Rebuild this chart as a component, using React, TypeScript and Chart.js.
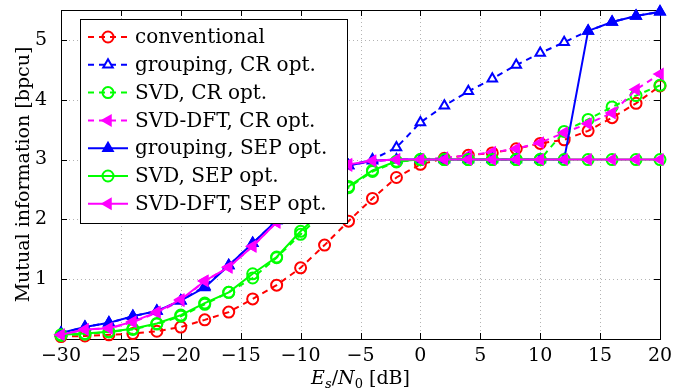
import React, { useEffect, useRef } from "react";
import { Chart, registerables } from "chart.js";
import { drawPoint } from "chart.js/helpers";

Chart.register(...registerables);

const snr = [-30, -28, -26, -24, -22, -20, -18, -16, -14, -12, -10, -8, -6, -4, -2, 0, 2, 4, 6, 8, 10, 12, 14, 16, 18, 20];

const conventional = [0.04, 0.05, 0.07, 0.09, 0.13, 0.2, 0.32, 0.45, 0.67, 0.9, 1.19, 1.57, 1.97, 2.35, 2.7, 2.92, 3.02, 3.07, 3.11, 3.18, 3.27, 3.33, 3.48, 3.7, 3.94, 4.23];
const groupingCR = [0.1, 0.2, 0.27, 0.38, 0.47, 0.64, 0.88, 1.23, 1.6, 1.98, 2.35, 2.68, 2.9, 3.0, 3.2, 3.62, 3.9, 4.14, 4.35, 4.58, 4.78, 4.96, 5.15, 5.3, 5.4, 5.47];
const svdCR = [0.06, 0.08, 0.12, 0.16, 0.25, 0.38, 0.58, 0.78, 1.02, 1.36, 1.75, 2.13, 2.53, 2.8, 2.96, 3.0, 3.0, 3.0, 3.0, 3.0, 3.0, 3.47, 3.67, 3.88, 4.07, 4.24];
const svdDftCR = [0.07, 0.16, 0.18, 0.28, 0.44, 0.64, 0.97, 1.2, 1.55, 1.95, 2.3, 2.65, 2.9, 2.97, 3.0, 3.0, 3.03, 3.07, 3.12, 3.18, 3.28, 3.45, 3.6, 3.78, 4.17, 4.43];
const groupingSEP = [0.1, 0.2, 0.27, 0.38, 0.47, 0.64, 0.86, 1.23, 1.6, 1.98, 2.35, 2.68, 2.9, 2.98, 3.0, 3.0, 3.0, 3.0, 3.0, 3.0, 3.0, 3.0, 5.15, 5.3, 5.4, 5.47];
const svdSEP = [0.07, 0.09, 0.12, 0.17, 0.26, 0.4, 0.6, 0.78, 1.09, 1.37, 1.8, 2.17, 2.55, 2.82, 2.97, 3.0, 3.0, 3.0, 3.0, 3.0, 3.0, 3.0, 3.0, 3.0, 3.0, 3.0];
const svdDftSEP = [0.07, 0.16, 0.18, 0.29, 0.45, 0.66, 0.97, 1.2, 1.55, 1.95, 2.3, 2.65, 2.92, 2.98, 3.0, 3.0, 3.0, 3.0, 3.0, 3.0, 3.0, 3.0, 3.0, 3.0, 3.0, 3.0];

const seriesLabels = [
  "conventional",
  "grouping, CR opt.",
  "SVD, CR opt.",
  "SVD-DFT, CR opt.",
  "grouping, SEP opt.",
  "SVD, SEP opt.",
  "SVD-DFT, SEP opt.",
];

const xTicks = [-30, -25, -20, -15, -10, -5, 0, 5, 10, 15, 20];
const yTicks = [1, 2, 3, 4, 5];

const yTitle = "Mutual information [bpcu]";

const FONT = '"DejaVu Serif", "Liberation Serif", serif';
const FS = 19;
const LEGEND_FS = 20;

const RED = "#ff0000";
const BLUE = "#0000ff";
const GREEN = "#00ff00";
const MAGENTA = "#ff00ff";
const DASH = [6, 5];

const framePlugin = {
  id: "frame",
  beforeDatasetsDraw(chart: any) {
    const { ctx, chartArea: ca, scales } = chart;
    const xs = scales.x;
    const ys = scales.y;
    ctx.save();
    ctx.strokeStyle = "#b4b4b4";
    ctx.lineWidth = 1;
    ctx.setLineDash([1, 3]);
    xTicks.forEach((v) => {
      const px = Math.round(xs.getPixelForValue(v)) + 0.5;
      ctx.beginPath();
      ctx.moveTo(px, ca.top);
      ctx.lineTo(px, ca.bottom);
      ctx.stroke();
    });
    yTicks.forEach((v) => {
      const py = Math.round(ys.getPixelForValue(v)) + 0.5;
      ctx.beginPath();
      ctx.moveTo(ca.left, py);
      ctx.lineTo(ca.right, py);
      ctx.stroke();
    });
    ctx.setLineDash([]);
    ctx.strokeStyle = "#000";
    ctx.lineWidth = 1;
    ctx.strokeRect(Math.round(ca.left) + 0.5, Math.round(ca.top) + 0.5, Math.round(ca.right - ca.left), Math.round(ca.bottom - ca.top));
    const tl = 6;
    xTicks.forEach((v) => {
      const px = Math.round(xs.getPixelForValue(v)) + 0.5;
      ctx.beginPath();
      ctx.moveTo(px, ca.bottom);
      ctx.lineTo(px, ca.bottom - tl);
      ctx.moveTo(px, ca.top);
      ctx.lineTo(px, ca.top + tl);
      ctx.stroke();
    });
    yTicks.forEach((v) => {
      const py = Math.round(ys.getPixelForValue(v)) + 0.5;
      ctx.beginPath();
      ctx.moveTo(ca.left, py);
      ctx.lineTo(ca.left + tl, py);
      ctx.moveTo(ca.right, py);
      ctx.lineTo(ca.right - tl, py);
      ctx.stroke();
    });
    ctx.restore();
  },
  afterDraw(chart: any) {
    const { ctx, chartArea: ca } = chart;
    ctx.save();
    ctx.fillStyle = "#000";
    ctx.font = `${FS}px ${FONT}`;
    ctx.textAlign = "center";
    ctx.textBaseline = "middle";
    ctx.translate(24, (ca.top + ca.bottom) / 2);
    ctx.rotate(-Math.PI / 2);
    ctx.fillText(yTitle, 0, 0);
    ctx.restore();

    ctx.save();
    ctx.fillStyle = "#000";
    ctx.textBaseline = "alphabetic";
    ctx.textAlign = "left";
    const parts = [
      { t: "E", f: `italic ${FS}px ${FONT}`, dy: 0 },
      { t: "s", f: `italic ${FS - 6}px ${FONT}`, dy: 4 },
      { t: "/", f: `${FS}px ${FONT}`, dy: 0 },
      { t: "N", f: `italic ${FS}px ${FONT}`, dy: 0 },
      { t: "0", f: `${FS - 6}px ${FONT}`, dy: 4 },
      { t: " [dB]", f: `${FS}px ${FONT}`, dy: 0 },
    ];
    let total = 0;
    parts.forEach((p) => {
      ctx.font = p.f;
      total += ctx.measureText(p.t).width;
    });
    let x = (ca.left + ca.right) / 2 - total / 2;
    const base = 384;
    parts.forEach((p) => {
      ctx.font = p.f;
      ctx.fillText(p.t, x, base + p.dy);
      x += ctx.measureText(p.t).width;
    });
    ctx.restore();

    ctx.save();
    const x0 = Math.round(ca.left) + 19;
    const y0 = Math.round(ca.top) + 9;
    const w = 267;
    const h = 204;
    ctx.fillStyle = "#fff";
    ctx.fillRect(x0, y0, w, h);
    ctx.strokeStyle = "#000";
    ctx.lineWidth = 1;
    ctx.strokeRect(x0 + 0.5, y0 + 0.5, w, h);
    chart.data.datasets.forEach((ds: any, i: number) => {
      const cy = y0 + 18 + i * 27.8;
      ctx.strokeStyle = ds.borderColor;
      ctx.lineWidth = ds.borderWidth;
      ctx.setLineDash(ds.borderDash || []);
      ctx.beginPath();
      ctx.moveTo(x0 + 8, cy);
      ctx.lineTo(x0 + 48, cy);
      ctx.stroke();
      ctx.setLineDash([]);
      ctx.fillStyle = ds.pointBackgroundColor;
      ctx.strokeStyle = ds.pointBorderColor;
      ctx.lineWidth = ds.pointBorderWidth;
      drawPoint(ctx, { pointStyle: ds.pointStyle, rotation: ds.pointRotation || 0, radius: ds.pointRadius, borderWidth: ds.pointBorderWidth }, x0 + 28, cy);
      ctx.fillStyle = "#000";
      ctx.font = `${LEGEND_FS}px ${FONT}`;
      ctx.textAlign = "left";
      ctx.textBaseline = "middle";
      ctx.fillText(ds.label, x0 + 55, cy + 1);
    });
    ctx.restore();
  },
};

function mk(label: string, values: number[], color: string, dashed: boolean, style: string, fill: string, rot: number, idx: number) {
  return {
    label,
    data: snr.map((x, i) => ({ x, y: values[i] })),
    borderColor: color,
    backgroundColor: color,
    borderWidth: 2,
    borderDash: dashed ? DASH : [],
    pointStyle: style,
    pointRadius: 5.5,
    pointBorderWidth: 2,
    pointBackgroundColor: fill,
    pointBorderColor: color,
    pointRotation: rot,
    pointHoverRadius: 5.5,
    tension: 0,
    clip: false,
    order: 10 - idx,
  };
}

export default function App() {
  const ref = useRef<HTMLCanvasElement | null>(null);
  useEffect(() => {
    document.body.style.margin = "0";
    const canvas = ref.current!;
    const T = "rgba(0,0,0,0)";
    const chart = new Chart(canvas, {
      type: "line",
      data: {
        datasets: [
          mk(seriesLabels[0], conventional, RED, true, "circle", T, 0, 0),
          mk(seriesLabels[1], groupingCR, BLUE, true, "triangle", "#ffffff", 0, 1),
          mk(seriesLabels[2], svdCR, GREEN, true, "circle", T, 0, 2),
          mk(seriesLabels[3], svdDftCR, MAGENTA, true, "triangle", MAGENTA, -90, 3),
          mk(seriesLabels[4], groupingSEP, BLUE, false, "triangle", BLUE, 0, 4),
          mk(seriesLabels[5], svdSEP, GREEN, false, "circle", T, 0, 5),
          mk(seriesLabels[6], svdDftSEP, MAGENTA, false, "triangle", MAGENTA, -90, 6),
        ] as any,
      },
      options: {
        responsive: false,
        animation: false,
        devicePixelRatio: 1,
        layout: { padding: { top: 10, right: 22, left: 0, bottom: 0 } },
        plugins: { legend: { display: false }, tooltip: { enabled: false } },
        events: [],
        scales: {
          x: {
            type: "linear",
            min: -30,
            max: 20,
            afterBuildTicks: (s: any) => {
              s.ticks = xTicks.map((v) => ({ value: v }));
            },
            afterFit: (s: any) => {
              s.height = 52;
              s.paddingLeft = 0;
              s.paddingRight = 0;
              s.paddingTop = 0;
              s.paddingBottom = 0;
            },
            grid: { display: false },
            border: { display: false },
            ticks: {
              color: "#000",
              font: { family: FONT, size: FS },
              padding: -2,
              maxRotation: 0,
              autoSkip: false,
              callback: (v: any) => (Number(v) < 0 ? "\u2212" + Math.abs(Number(v)) : String(v)),
            },
          },
          y: {
            type: "linear",
            min: 0,
            max: 5.5,
            afterBuildTicks: (s: any) => {
              s.ticks = yTicks.map((v) => ({ value: v }));
            },
            afterFit: (s: any) => {
              s.width = 61;
              s.paddingLeft = 0;
              s.paddingRight = 0;
              s.paddingTop = 0;
              s.paddingBottom = 0;
            },
            grid: { display: false },
            border: { display: false },
            ticks: {
              color: "#000",
              font: { family: FONT, size: FS },
              padding: 6,
              autoSkip: false,
              callback: (v: any) => String(v),
            },
          },
        },
      },
      plugins: [framePlugin],
    } as any);
    return () => chart.destroy();
  }, []);
  return (
    <div style={{ width: 682, height: 391, background: "#fff" }}>
      <canvas ref={ref} width={682} height={391} style={{ display: "block" }} />
    </div>
  );
}
